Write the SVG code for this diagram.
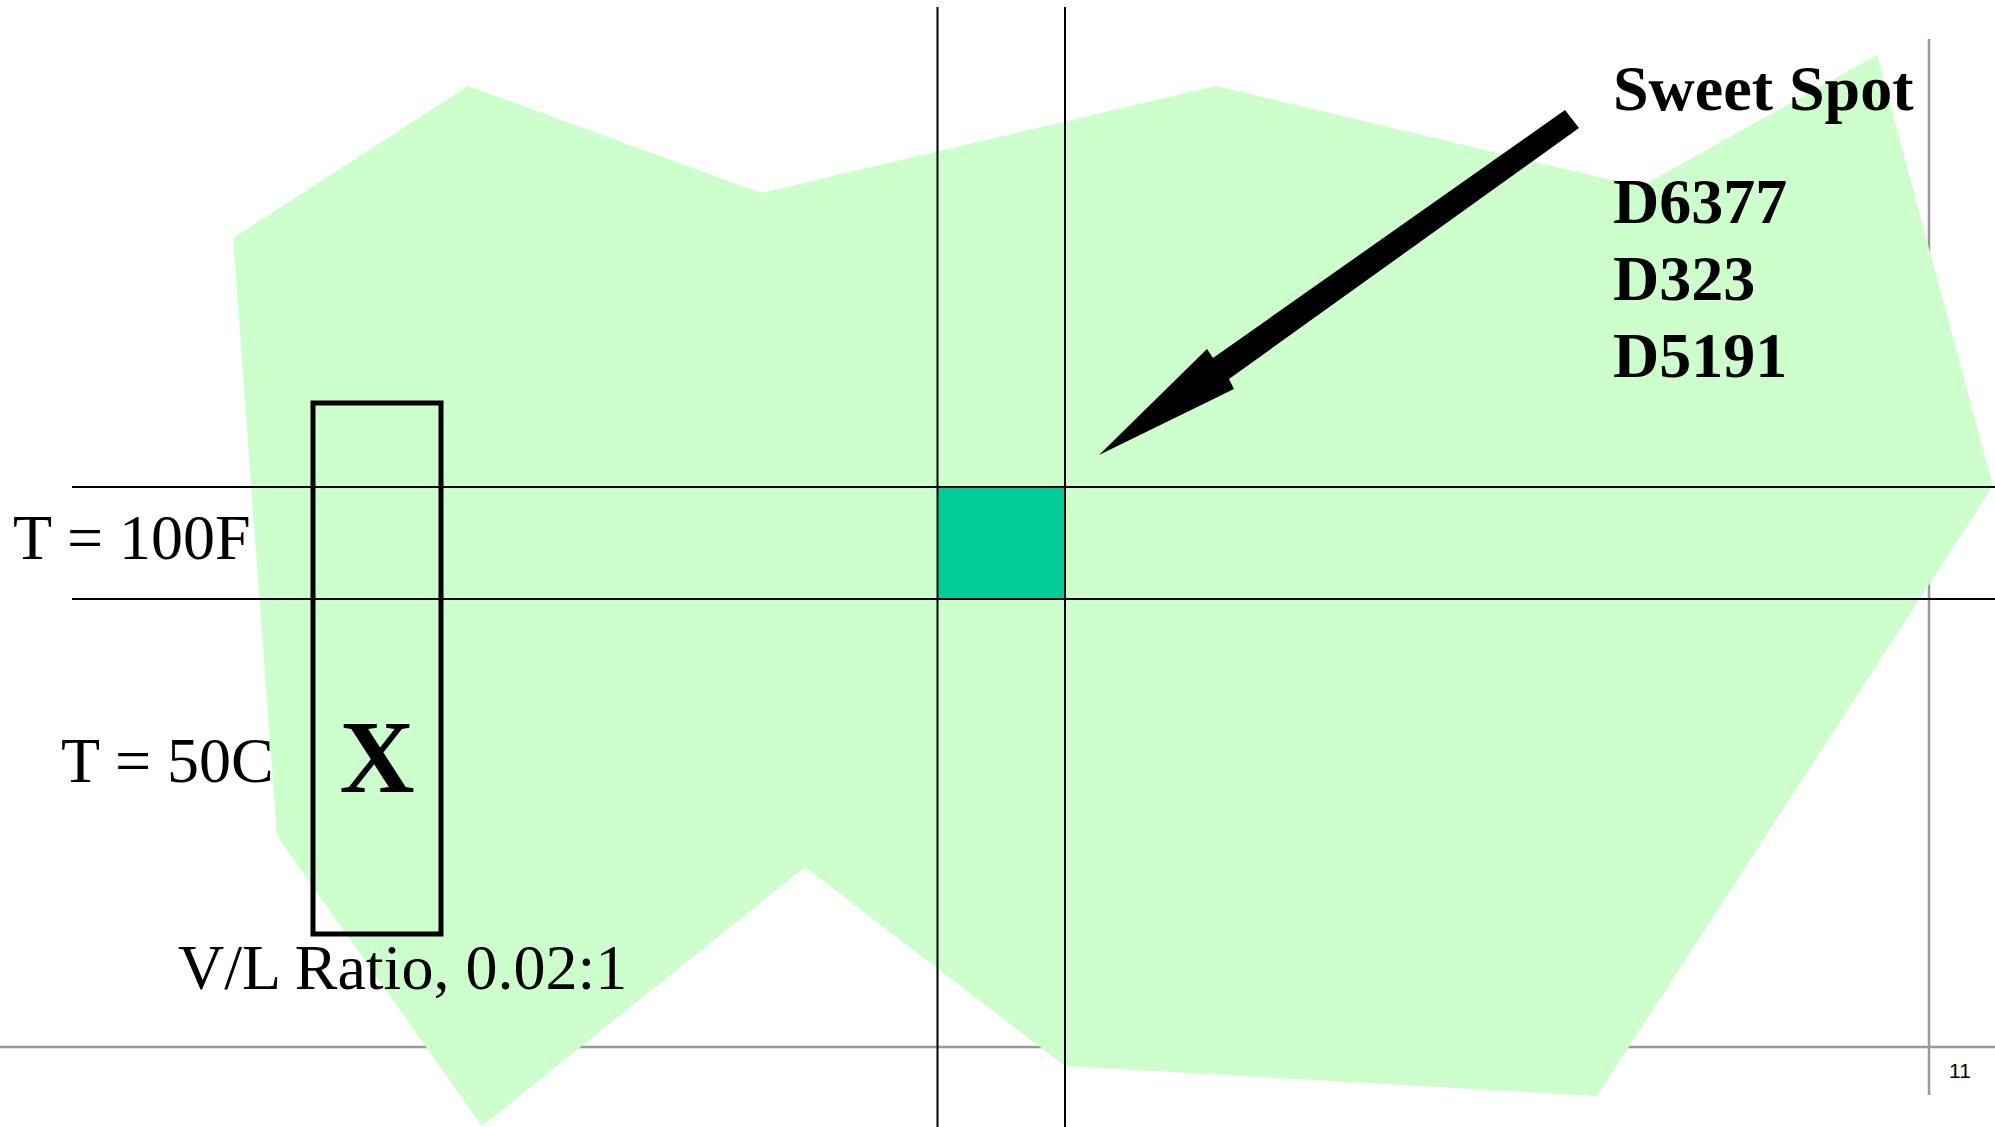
<svg xmlns="http://www.w3.org/2000/svg" width="1995" height="1127" viewBox="0 0 1995 1127">
  <style>
    .lbl { font-family: "Liberation Serif", "Times New Roman", serif; font-size: 64px; fill: #000; }
    .bold { font-weight: bold; }
    .big { font-size: 104px; }
    .grid { stroke: #000; stroke-width: 2; fill: none; }
    .frame { stroke: #999; stroke-width: 2.5; fill: none; }
    .pg { font-family: "Liberation Sans", Arial, sans-serif; font-size: 21px; fill: #000; }
  </style>
  <rect x="0" y="0" width="1995" height="1127" fill="#fff"/>
  <g id="frame">
    <line class="frame" x1="0" y1="1047" x2="1995" y2="1047"/>
    <line class="frame" x1="1929" y1="39" x2="1929" y2="1095"/>
    <text class="pg" x="1960" y="1078" text-anchor="middle">11</text>
  </g>
  <g id="region">
    <polygon points="233,238 468,86 761,193 1216,86 1640,187 1877,55 1993,486 1597,1096 1065,1066 805,867 482,1126 277,836" fill="#CCFFCC"/>
  </g>
  <g id="sweet-spot-cell">
    <rect x="938" y="487" width="127" height="112" fill="#00CC99"/>
  </g>
  <g id="connectors">
    <line class="grid" x1="72" y1="487" x2="1995" y2="487"/>
    <line class="grid" x1="72" y1="599" x2="1995" y2="599"/>
    <line class="grid" x1="937.5" y1="7" x2="937.5" y2="1127"/>
    <line class="grid" x1="1065" y1="7" x2="1065" y2="1127"/>
    <polygon id="arrow" points="1565,110 1213,358 1207,349 1099,455 1234,389 1229,379 1579,128" fill="#000"/>
  </g>
  <g id="vl-box">
    <rect x="313" y="403" width="128" height="531" fill="none" stroke="#000" stroke-width="5"/>
    <text class="lbl bold big" x="377" y="792" text-anchor="middle">X</text>
  </g>
  <g id="labels">
    <text class="lbl" x="13" y="559">T = 100F</text>
    <text class="lbl" x="61" y="782">T = 50C</text>
    <text class="lbl" x="178" y="989">V/L Ratio, 0.02:1</text>
    <text class="lbl bold" x="1613" y="110">Sweet Spot</text>
    <text class="lbl bold" x="1613" y="223">D6377</text>
    <text class="lbl bold" x="1613" y="300">D323</text>
    <text class="lbl bold" x="1613" y="377">D5191</text>
  </g>
</svg>
